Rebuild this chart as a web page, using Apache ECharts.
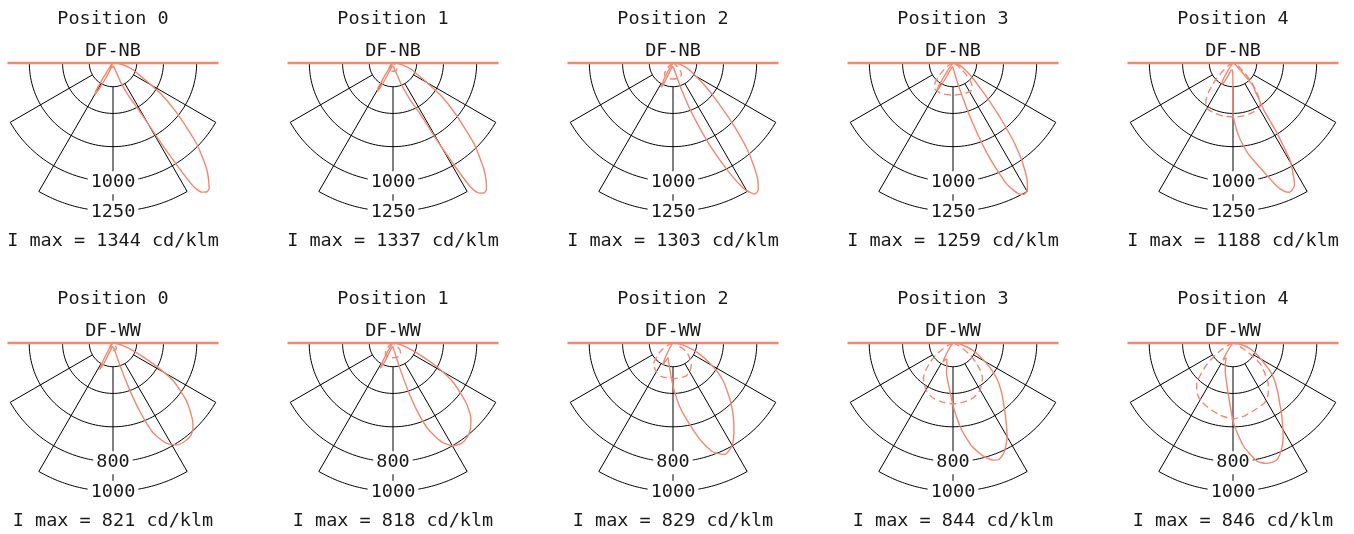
<!DOCTYPE html>
<html>
<head>
<meta charset="utf-8">
<script src="https://cdn.jsdelivr.net/npm/echarts@6/dist/echarts.min.js"></script>
<style>
  html, body { margin: 0; padding: 0; background: #fff; }
  #chart { width: 1354px; height: 534px; }
</style>
</head>
<body>
<div id="chart"></div>
<script>
// ---------------- DATA ----------------
const positions = ['Position 0', 'Position 1', 'Position 2', 'Position 3', 'Position 4'];
const rowNames = ['DF-NB', 'DF-WW'];
const nbImax = [1344, 1337, 1303, 1259, 1188];
const wwImax = [821, 818, 829, 844, 846];
const nbRings = [200, 425, 705, 1000, 1250];
const wwRings = [160, 340, 565, 800, 1000];

// [gamma (deg, + = right of nadir), intensity cd/klm]
const nb0Solid = [[-90,0],[-70,2],[-50,5],[-40,15],[-36,60],[-33,180],[-31,290],[-29.5,305],[-28,240],[-26,150],[-23,70],[-18,35],[-10,25],[0,25],[10,30],[18,60],[22,180],[26,330],[29,470],[31,800],[33,1230],[34.5,1320],[36,1344],[37.5,1330],[39.5,1265],[41.5,1190],[44,1070],[46,980],[48.5,840],[52.5,660],[57,490],[61,340],[66,235],[72,170],[80,85],[86,30],[90,0]];
const nb0Dashed = [[-90,0],[-60,5],[-45,20],[-30,30],[-15,35],[0,35],[15,35],[30,30],[45,20],[60,5],[90,0]];
const nb1Solid = [[-90,0],[-70,2],[-50,5],[-40,15],[-35,60],[-32,170],[-30,260],[-28.5,270],[-27,210],[-25,130],[-22,60],[-17,35],[-10,25],[0,25],[10,35],[17,70],[21,190],[25,340],[28,480],[30,820],[32,1230],[33.5,1315],[35,1337],[36.5,1325],[38.5,1260],[40.5,1180],[43,1060],[45,970],[47.5,830],[51.5,650],[56,480],[60,330],[65,225],[71,160],[79,80],[86,30],[90,0]];
const nb1Dashed = [[-90,0],[-65,5],[-50,25],[-40,50],[-30,65],[-15,70],[0,70],[15,70],[30,65],[40,50],[50,25],[65,5],[90,0]];
const nb2Solid = [[-90,0],[-70,2],[-50,5],[-38,15],[-32,60],[-29,150],[-26.5,225],[-25,215],[-23,150],[-20,70],[-15,40],[-8,30],[0,30],[8,45],[14,90],[18,250],[21,480],[24,750],[27,1020],[29.5,1220],[32,1303],[34,1285],[36,1215],[38,1110],[40.5,970],[43,810],[46,630],[50,460],[55,320],[62,200],[70,125],[79,60],[86,20],[90,0]];
const nb2Dashed = [[-90,0],[-70,5],[-55,30],[-45,80],[-38,115],[-30,130],[-15,135],[0,135],[15,135],[30,130],[38,115],[45,80],[55,30],[70,5],[90,0]];
const nb3Solid = [[-90,0],[-70,2],[-50,5],[-40,20],[-35,90],[-32,220],[-30.5,266],[-29,240],[-26,150],[-22,70],[-15,40],[-5,35],[0,40],[6,60],[11,120],[15,260],[18,520],[21,850],[24,1120],[26.5,1230],[28.5,1259],[30.5,1235],[32.5,1160],[35,1020],[37.5,850],[40,660],[43,480],[47,320],[53,200],[60,120],[70,60],[80,25],[90,0]];
const nb3Dashed = [[-90,0],[-75,5],[-65,25],[-55,80],[-47,170],[-40,240],[-33,270],[-20,275],[0,270],[20,275],[33,280],[40,250],[47,170],[55,80],[65,25],[75,5],[90,0]];
const nb4Solid = [[-90,0],[-70,2],[-50,5],[-40,20],[-33,100],[-29,190],[-27,200],[-24,160],[-20,100],[-12,60],[-5,60],[-1,90],[0,423],[3,560],[5.5,650],[9,760],[12,840],[16,960],[19.5,1100],[22,1170],[23.5,1188],[25,1180],[26.8,1150],[28.5,1060],[30.5,940],[31.5,780],[32.3,660],[33.3,470],[36,360],[39,290],[41.5,250],[43,150],[46,80],[52,40],[60,20],[75,8],[90,0]];
const nb4Dashed = [[-90,0],[-80,5],[-70,15],[-60,50],[-50,130],[-45,220],[-40,320],[-35,400],[-30,440],[-20,450],[-10,455],[0,455],[10,455],[20,450],[30,440],[34,410],[40,300],[45,200],[50,120],[60,50],[70,15],[80,5],[90,0]];

const ww0Solid = [[-90,0],[-70,2],[-50,5],[-38,15],[-33,50],[-29,150],[-26.5,200],[-24,150],[-20,60],[-14,30],[-5,25],[0,25],[8,35],[14,60],[17,150],[19.5,330],[21.5,500],[24,660],[28,765],[32,810],[36,821],[40,815],[43,790],[46,745],[52,625],[58,475],[62.5,305],[69,145],[75,70],[82,25],[90,0]];
const ww0Dashed = [[-90,0],[-60,5],[-45,25],[-30,45],[-15,50],[0,50],[15,50],[30,45],[45,25],[60,5],[90,0]];
const ww1Solid = [[-90,0],[-70,2],[-50,5],[-38,15],[-33,50],[-29.5,140],[-27,190],[-24.5,150],[-21,60],[-14,30],[-5,25],[0,30],[7,45],[12,80],[15,170],[17.5,330],[19.5,480],[22,620],[26,740],[30,800],[34,818],[38,810],[42,780],[46,730],[51,630],[57,480],[62,320],[68,160],[75,70],[82,25],[90,0]];
const ww1Dashed = [[-90,0],[-70,5],[-55,30],[-45,65],[-35,90],[-20,100],[0,100],[20,100],[35,90],[45,65],[55,30],[70,5],[90,0]];
const ww2Solid = [[-90,0],[-70,2],[-50,5],[-38,15],[-30,70],[-27,130],[-24.7,160],[-22,130],[-18.4,105],[-10,150],[-5,200],[-2.5,240],[2,333],[6,430],[9.9,520],[15.4,670],[20,780],[25,829],[30,797],[35.4,710],[40,630],[44.2,558],[49,480],[53.7,413],[58,340],[61.4,280],[66,210],[71.5,140],[78,70],[84,25],[90,0]];
const ww2Dashed = [[-90,0],[-80,5],[-70,25],[-60,75],[-55,110],[-50,140],[-42.7,195],[-30,225],[-20,240],[0,240],[20,240],[30,225],[40.3,190],[50,140],[56,115],[60,75],[70,25],[80,5],[90,0]];
const ww3Solid = [[-90,0],[-70,2],[-50,5],[-40,12],[-33,60],[-29,130],[-27,145],[-24,120],[-20,120],[-12,210],[-5,300],[0,420],[5,570],[10,700],[15,790],[19,835],[21.5,844],[25,815],[30,730],[35,620],[40,530],[45,460],[51,380],[57,290],[63,210],[70,140],[78,65],[84,25],[90,0]];
const ww3Dashed = [[-90,0],[-80,5],[-70,20],[-60,80],[-55,140],[-50,200],[-45,260],[-40,310],[-30,365],[-20,395],[-10,405],[0,410],[10,405],[20,395],[30,365],[40,310],[45,260],[50,200],[55,140],[60,80],[70,20],[80,5],[90,0]];
const ww4Solid = [[-90,0],[-70,2],[-50,5],[-40,10],[-34,60],[-31,115],[-29.7,134],[-27,115],[-24,115],[-20.3,148],[-15,200],[-10,260],[-4.6,363],[0.4,540],[5.8,698],[11.4,811],[15,840],[18.3,846],[21,838],[24.5,788],[28,720],[31,650],[34.7,574],[38,510],[41.9,455],[46,400],[49.9,354],[54,295],[57.9,241],[63,190],[67,155],[71.5,121],[77,75],[83,30],[90,0]];
const ww4Dashed = [[-90,0],[-80,5],[-70,25],[-60,85],[-55,150],[-51,225],[-46,300],[-42,366],[-35,420],[-28,450],[-19.5,470],[-10,495],[0,512],[10,495],[20,470],[28,455],[35,415],[41,362],[46,300],[52,240],[56,160],[60,85],[70,25],[80,5],[90,0]];

const nbSolid = [nb0Solid, nb1Solid, nb2Solid, nb3Solid, nb4Solid];
const nbDashed = [nb0Dashed, nb1Dashed, nb2Dashed, nb3Dashed, nb4Dashed];
const wwSolid = [ww0Solid, ww1Solid, ww2Solid, ww3Solid, ww4Solid];
const wwDashed = [ww0Dashed, ww1Dashed, ww2Dashed, ww3Dashed, ww4Dashed];

// ---------------- LAYOUT / STYLE ----------------
const FONT = '"DejaVu Sans Mono", "Liberation Mono", monospace';
const FS = 18.5;
const TEXT_COLOR = '#1a1a1a';
const GRID_COLOR = '#000';
const CURVE_COLOR = '#f4876f';
const COL_X0 = 113, COL_STEP = 280;
const ROW_Y = [63, 343];
const R_PX = 178;
const ROW_SCALE_MAX = [1500, 1200];
const HLINE_HALF_PX = 105.5;
const ringSpans = [90, 90, 90, 60, 30];   // half angular extent of each ring
const spokeAngles = [-60, -30, 0, 30, 60];
const spokeEndRing = [3, 4, 4, 4, 3];

const rows = [
  { name: rowNames[0], imax: nbImax, rings: nbRings, solid: nbSolid, dashed: nbDashed },
  { name: rowNames[1], imax: wwImax, rings: wwRings, solid: wwSolid, dashed: wwDashed }
];

const polar = [], angleAxis = [], radiusAxis = [], series = [], graphic = [];

function toPolar(pairs) { return pairs.map(p => [p[1], p[0]]); }
function textEl(x, y, text) {
  return { type: 'text', x: x, y: y, silent: true,
    style: { text: text, font: FS + 'px ' + FONT, fill: TEXT_COLOR, align: 'center', verticalAlign: 'middle', textAlign: 'center', textVerticalAlign: 'middle' } };
}

rows.forEach((row, ri) => {
  const cy = ROW_Y[ri];
  const smax = ROW_SCALE_MAX[ri];
  positions.forEach((pos, ci) => {
    const idx = ri * 5 + ci;
    const cx = COL_X0 + ci * COL_STEP;
    polar.push({ center: [cx, cy], radius: R_PX });
    angleAxis.push({ polarIndex: idx, type: 'value', min: -180, max: 180, startAngle: 90, clockwise: false, show: false });
    radiusAxis.push({ polarIndex: idx, type: 'value', min: 0, max: smax, show: false });

    // rings
    row.rings.forEach((rv, k) => {
      const pts = [];
      for (let a = -ringSpans[k]; a <= ringSpans[k] + 1e-9; a += 1) pts.push([rv, a]);
      series.push({ type: 'line', coordinateSystem: 'polar', polarIndex: idx, data: pts, symbol: 'none', silent: true, z: 1,
        lineStyle: { color: GRID_COLOR, width: 1 }, animation: false });
    });
    // spokes
    spokeAngles.forEach((a, k) => {
      series.push({ type: 'line', coordinateSystem: 'polar', polarIndex: idx,
        data: [[row.rings[0], a], [row.rings[spokeEndRing[k]], a]], symbol: 'none', silent: true, z: 1,
        lineStyle: { color: GRID_COLOR, width: 1 }, animation: false });
    });
    // ring labels
    series.push({ type: 'scatter', coordinateSystem: 'polar', polarIndex: idx,
      data: [[row.rings[3], 0], [row.rings[4], 0]], symbol: 'circle', symbolSize: 1, silent: true, z: 3,
      itemStyle: { color: '#fff', opacity: 1 },
      label: { show: true, position: 'inside', offset: [0, 1], formatter: p => String(p.value[0]), fontFamily: FONT, fontSize: FS,
        color: TEXT_COLOR, opacity: 1, textBorderWidth: 0, backgroundColor: '#fff', padding: [2, 3] }, animation: false });
    // horizontal luminaire line
    const hw = HLINE_HALF_PX * smax / R_PX;
    series.push({ type: 'line', coordinateSystem: 'polar', polarIndex: idx, data: [[hw, -90], [hw, 90]], symbol: 'none', silent: true, z: 4,
      lineStyle: { color: CURVE_COLOR, width: 2.6 }, animation: false });
    // curves
    series.push({ type: 'line', coordinateSystem: 'polar', polarIndex: idx, data: toPolar(row.dashed[ci]), symbol: 'none', smooth: 0.2, z: 5,
      lineStyle: { color: CURVE_COLOR, width: 1.4, type: [7, 4] }, animation: false, clip: false });
    series.push({ type: 'line', coordinateSystem: 'polar', polarIndex: idx, data: toPolar(row.solid[ci]), symbol: 'none', smooth: 0.2, z: 6,
      lineStyle: { color: CURVE_COLOR, width: 1.4 }, animation: false, clip: false });

    // texts
    const ty = cy - 63;
    graphic.push(textEl(cx, ty + 19.5, pos));
    graphic.push(textEl(cx, ty + 51, row.name));
    graphic.push(textEl(cx, ty + 241, 'I max = ' + row.imax[ci] + ' cd/klm'));
  });
});

const chart = echarts.init(document.getElementById('chart'), null, { renderer: 'canvas', width: 1354, height: 534 });
chart.setOption({ animation: false, backgroundColor: '#fff', polar, angleAxis, radiusAxis, series, graphic });
</script>
</body>
</html>
